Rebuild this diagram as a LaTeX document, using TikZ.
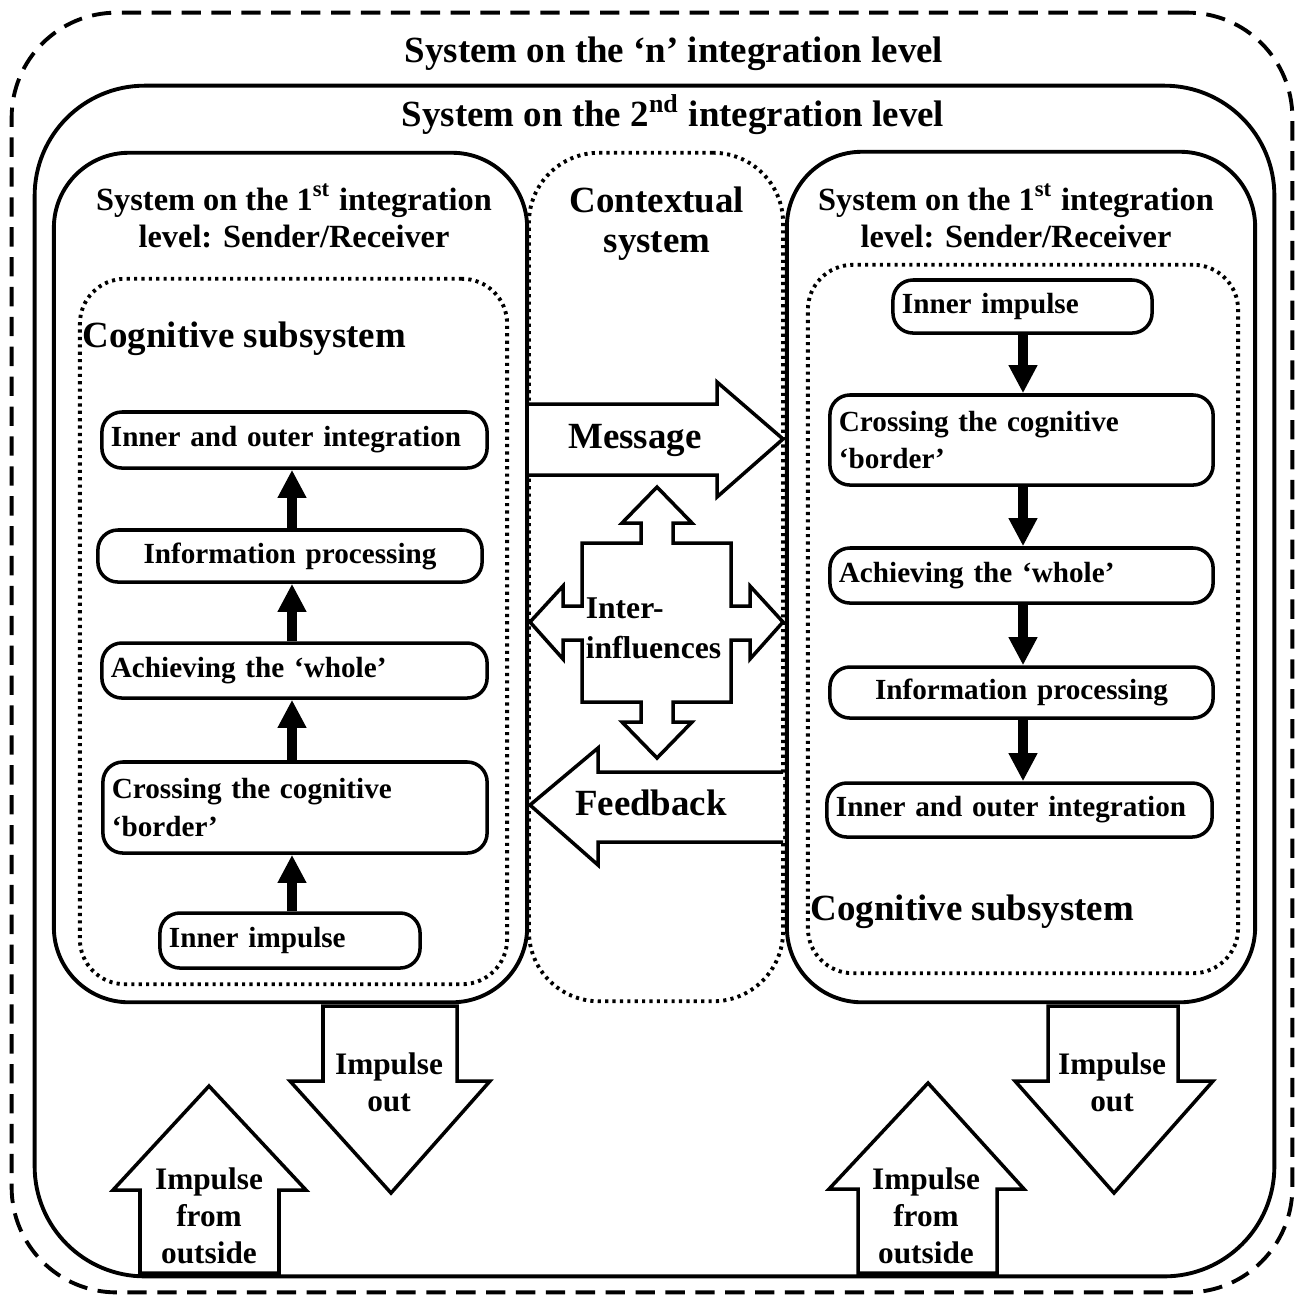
\documentclass[tikz,border=0pt]{standalone}
\usepackage{fontspec}
\setmainfont{Liberation Serif}
\usetikzlibrary{arrows.meta}
\newcommand{\ftitle}{\fontsize{10.5}{11.4}\selectfont\bfseries}
\newcommand{\fhead}{\fontsize{9.2}{10.5}\selectfont\bfseries}
\newcommand{\farrow}{\fontsize{8.9}{10.5}\selectfont\bfseries}
\newcommand{\finfl}{\fontsize{9}{11.4}\selectfont\bfseries}
\newcommand{\fstep}{\fontsize{8.3}{10.8}\selectfont\bfseries}

\begin{document}
\begin{tikzpicture}[
  x=0.01cm,y=-0.01cm,
  line width=1pt,
  level/.style={draw,line width=1.1pt,inner sep=0pt},
  dots/.style={dash pattern=on 0.9pt off 1.2pt},
  stepbox/.style={draw,rounded corners=0.2cm,font=\fstep,inner xsep=0.09cm,inner ysep=0pt,align=left},
  flow/.style={line width=2.8pt,-{Triangle[length=8pt,width=7.7pt]}},
  fat/.style={draw,fill=white,line width=1pt,line join=miter},
  lbl/.style={inner sep=0pt,align=center}
]
  \useasboundingbox (0,0) rectangle (1301,1299);

  % nested systems
  \node[level,dash pattern=on 5.5pt off 3pt,rounded corners=1.05cm,minimum width=12.80cm,minimum height=12.79cm] (sysn) at (652,652.5) {};
  \node[level,rounded corners=1.1cm,minimum width=12.39cm,minimum height=11.90cm] (sys2) at (654.5,681) {};
  \node[level,rounded corners=0.75cm,minimum width=4.73cm,minimum height=8.49cm] (sysL) at (290.5,577.5) {};
  \node[level,rounded corners=0.75cm,minimum width=4.68cm,minimum height=8.50cm] (sysR) at (1021,577) {};
  \node[level,dots,rounded corners=0.7cm,minimum width=2.54cm,minimum height=8.48cm] (ctx) at (656,577) {};
  \node[level,dots,rounded corners=0.45cm,minimum width=4.27cm,minimum height=7.05cm] (cogL) at (293.5,631.5) {};
  \node[level,dots,rounded corners=0.45cm,minimum width=4.30cm,minimum height=7.08cm] (cogR) at (1023,619) {};

  \node[lbl,font=\ftitle,anchor=base] (ttln) at (674,62) {System on the ‘n’ integration level};
  \node[lbl,font=\ftitle,anchor=base] (ttl2) at (673,126) {System on the 2\textsuperscript{nd} integration level};
  \node[lbl,font=\fhead] (hdL) at (294,216) {System on the 1\textsuperscript{st} integration\\level: Sender/Receiver};
  \node[lbl,font=\fhead] (hdR) at (1016,216) {System on the 1\textsuperscript{st} integration\\level: Sender/Receiver};
  \node[lbl,font=\ftitle] (ctxt) at (657,224) {Contextual\\system};
  \node[lbl,font=\ftitle,anchor=base west] (cogLt) at (81,347) {Cognitive subsystem};
  \node[lbl,font=\ftitle,anchor=base west] (cogRt) at (809,920) {Cognitive subsystem};

  % left: sender
  \node[stepbox,text width=3.67cm,minimum height=0.56cm] (ioL) at (294.5,440) {Inner and outer integration};
  \node[stepbox,text width=3.66cm,minimum height=0.52cm,align=center] (ipL) at (290,556) {Information processing};
  \node[stepbox,text width=3.67cm,minimum height=0.55cm] (awL) at (294.5,670.5) {Achieving the ‘whole’};
  \node[stepbox,text width=3.66cm,minimum height=0.91cm] (cbL) at (295,807.5) {Crossing the cognitive\\‘border’};
  \node[stepbox,text width=2.42cm,minimum height=0.55cm] (iiL) at (290,940.5) {Inner impulse};
  \coordinate (colL) at (292,0);
  \draw[flow] (iiL.north -| colL) -- (cbL.south -| colL);
  \draw[flow] (cbL.north -| colL) -- (awL.south -| colL);
  \draw[flow] (awL.north -| colL) -- (ipL.south -| colL);
  \draw[flow] (ipL.north -| colL) -- (ioL.south -| colL);

  % right: receiver
  \node[stepbox,text width=2.41cm,minimum height=0.53cm] (iiR) at (1022.5,306.5) {Inner impulse};
  \node[stepbox,text width=3.65cm,minimum height=0.90cm] (cbR) at (1021.5,440) {Crossing the cognitive\\‘border’};
  \node[stepbox,text width=3.65cm,minimum height=0.55cm] (awR) at (1021.5,575.5) {Achieving the ‘whole’};
  \node[stepbox,text width=3.65cm,minimum height=0.51cm,align=center] (ipR) at (1021.5,692.5) {Information processing};
  \node[stepbox,text width=3.67cm,minimum height=0.54cm] (ioR) at (1019.5,810) {Inner and outer integration};
  \coordinate (colR) at (1023,0);
  \draw[flow] (iiR.south -| colR) -- (cbR.north -| colR);
  \draw[flow] (cbR.south -| colR) -- (awR.north -| colR);
  \draw[flow] (awR.south -| colR) -- (ipR.north -| colR);
  \draw[flow] (ipR.south -| colR) -- (ioR.north -| colR);

  % exchange between the two systems
  \draw[fat] (529,404) -- (717,404) -- (717,382) -- (783,439) -- (717,497) -- (717,475) -- (529,475);
  \node[lbl,font=\ftitle,anchor=base] (msg) at (635,448) {Message};
  \draw[fat] (783,772) -- (598,772) -- (598,748) -- (530,805) -- (598,865) -- (598,842) -- (783,842);
  \node[lbl,font=\ftitle,anchor=base] (fb) at (651,815) {Feedback};
  \draw[fat] (657,487) -- (692,523) -- (673,523) -- (673,543) -- (731,543) -- (731,606) -- (750,606)
    -- (750,586) -- (783,622) -- (750,659) -- (750,640) -- (731,640) -- (731,702) -- (673,702)
    -- (673,722) -- (692,722) -- (657,758) -- (622,722) -- (641,722) -- (641,702) -- (582,702)
    -- (582,640) -- (563,640) -- (563,659) -- (530,622) -- (563,586) -- (563,606) -- (582,606)
    -- (582,543) -- (641,543) -- (641,523) -- (622,523) -- cycle;
  \node[lbl,font=\finfl,align=left,anchor=west] (infl) at (584,628) {Inter-\\influences};

  % impulses
  \draw[fat] (323,1006) -- (323,1081) -- (290,1081) -- (391,1193) -- (490,1081) -- (457,1081) -- (457,1006) -- cycle;
  \node[lbl,font=\farrow] (outL) at (389,1082) {Impulse\\out};
  \draw[fat] (140,1273) -- (140,1190) -- (113,1190) -- (209,1086) -- (306,1190) -- (279,1190) -- (279,1273) -- cycle;
  \node[lbl,font=\farrow] (inL) at (209,1216) {Impulse\\from\\outside};
  \draw[fat] (1048,1006) -- (1048,1081) -- (1015,1081) -- (1114,1193) -- (1213,1081) -- (1178,1081) -- (1178,1006) -- cycle;
  \node[lbl,font=\farrow] (outR) at (1112,1082) {Impulse\\out};
  \draw[fat] (858,1273) -- (858,1189) -- (829,1189) -- (928,1083) -- (1024,1189) -- (997,1189) -- (997,1273) -- cycle;
  \node[lbl,font=\farrow] (inR) at (926,1216) {Impulse\\from\\outside};
\end{tikzpicture}
\end{document}
